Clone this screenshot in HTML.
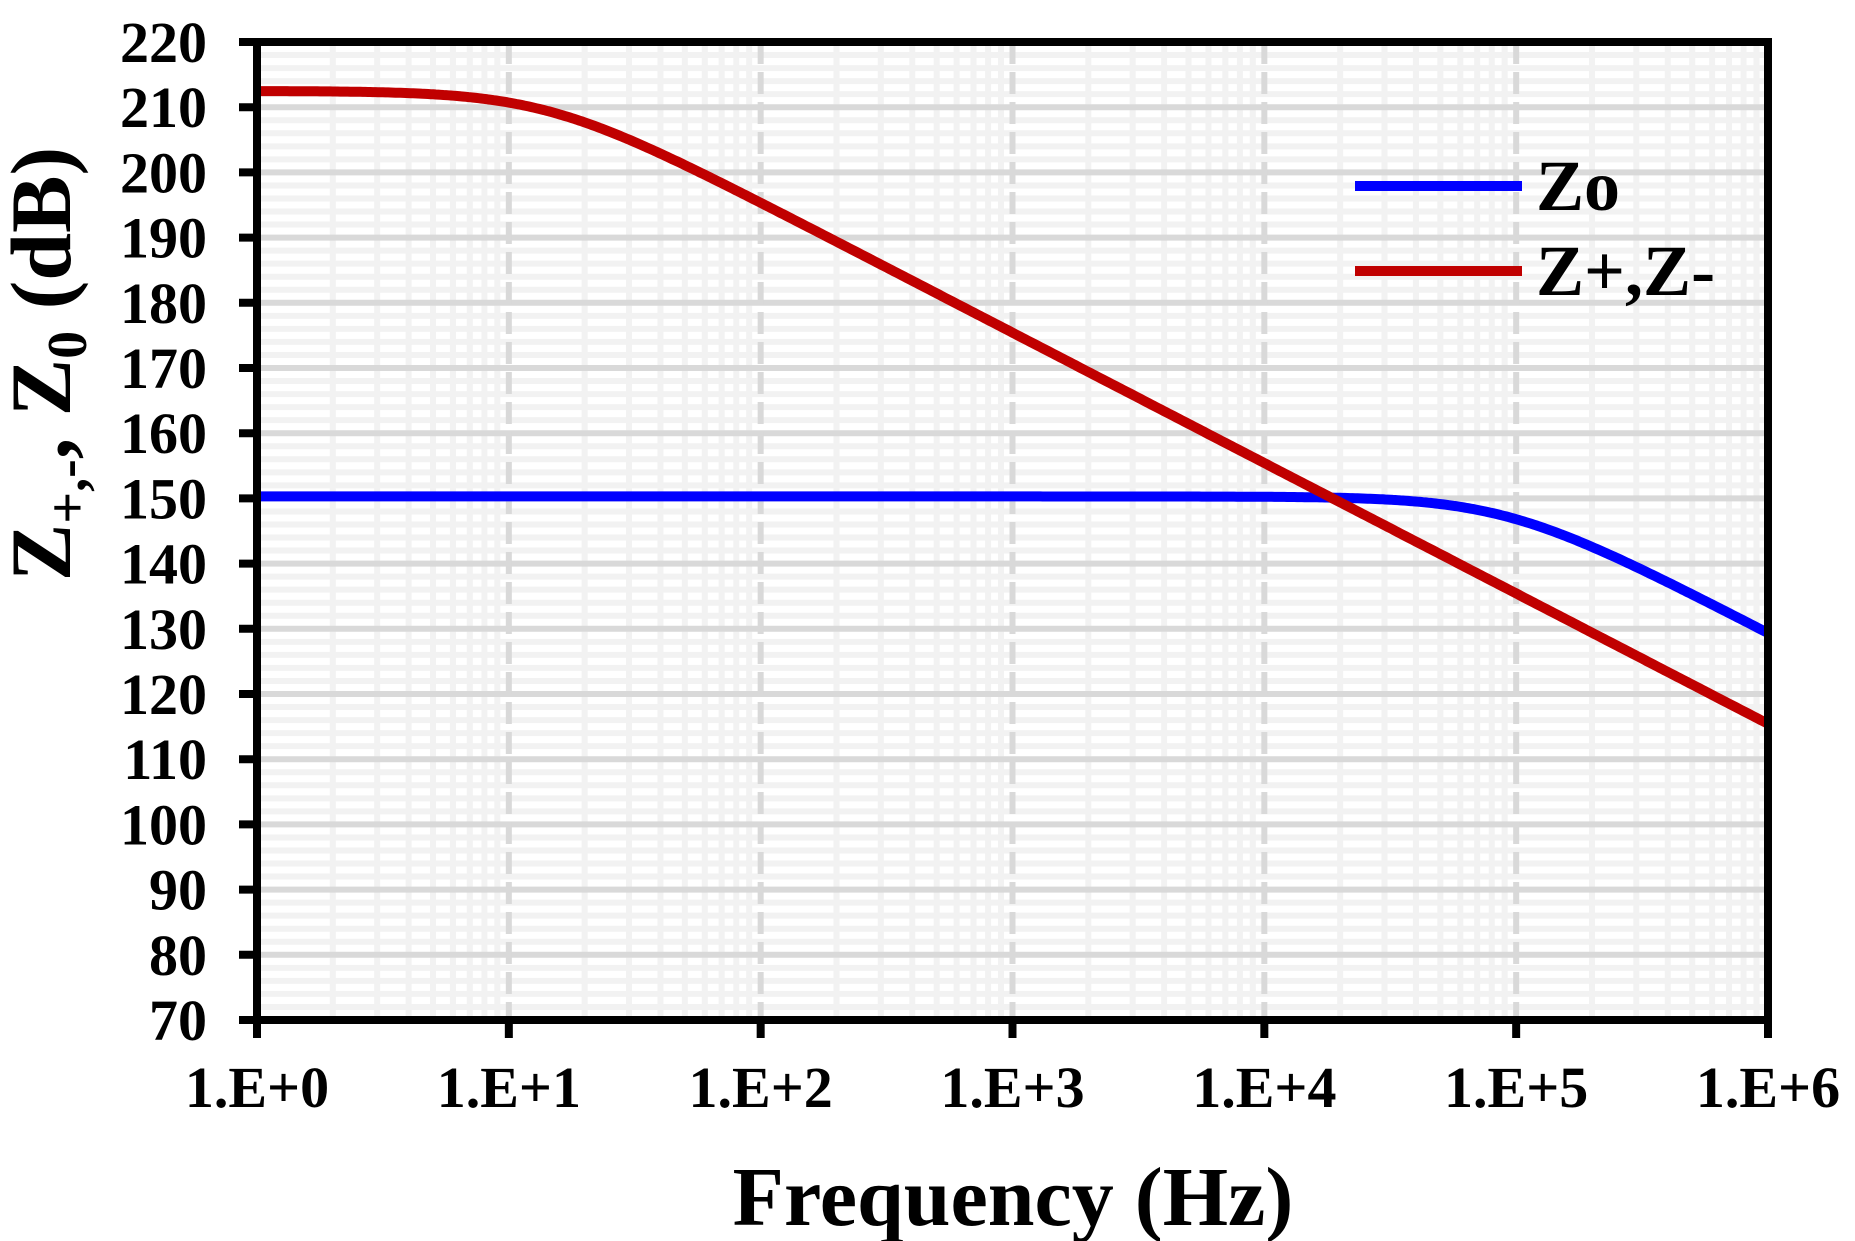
<!DOCTYPE html>
<html><head><meta charset="utf-8">
<style>
html,body{margin:0;padding:0;background:#fff;}
svg{display:block;}
text{font-family:"Liberation Serif",serif;font-weight:bold;fill:#000;}
</style></head>
<body>
<svg id="s" width="1855" height="1241" viewBox="0 0 1855 1241" xmlns="http://www.w3.org/2000/svg">
<g id="grid"></g>
<g id="curves"></g>
<g id="axes"></g>
<g id="labels"></g>
<text x="1013" y="1225" font-size="84" text-anchor="middle">Frequency (Hz)</text>
<text transform="translate(70,364) rotate(-90)" font-size="86" text-anchor="middle">Z<tspan font-size="56" dy="16">+,-</tspan><tspan dy="-16">, Z</tspan><tspan font-size="56" dy="16">0</tspan><tspan dy="-16"> (dB)</tspan></text>
<line x1="1355" y1="186" x2="1522" y2="186" stroke="#0000ff" stroke-width="10"/>
<line x1="1355" y1="271" x2="1522" y2="271" stroke="#c00000" stroke-width="10"/>
<text x="1536" y="210" font-size="72">Zo</text>
<text x="1536" y="295" font-size="72">Z+,Z-</text>
</svg>
<script>
var X0=257,X1=1768,Y0=42,Y1=1020;
function px(lf){return X0+(X1-X0)*lf/6;}
function py(v){return Y1-(Y1-Y0)*(v-70)/150;}
var ns="http://www.w3.org/2000/svg";
function el(p,t,a){var e=document.createElementNS(ns,t);for(var k in a)e.setAttribute(k,a[k]);p.appendChild(e);return e;}
var g=document.getElementById('grid');
el(g,'rect',{x:X0,y:Y0,width:X1-X0,height:Y1-Y0,fill:'#fff'});
for(var v=72;v<220;v+=2){if(v%10)el(g,'line',{x1:X0,x2:X1,y1:py(v),y2:py(v),stroke:'#f2f2f2','stroke-width':6});}
for(var d=0;d<6;d++)for(var m=2;m<10;m++){var x=px(d+Math.log10(m));el(g,'line',{x1:x,x2:x,y1:Y0,y2:Y1,stroke:'#f2f2f2','stroke-width':6});}
for(var v=80;v<220;v+=10)el(g,'line',{x1:X0,x2:X1,y1:py(v),y2:py(v),stroke:'#d9d9d9','stroke-width':6});
for(var d=1;d<6;d++){var x=px(d);el(g,'line',{x1:x,x2:x,y1:Y0,y2:Y1,stroke:'#d9d9d9','stroke-width':6,'stroke-dasharray':'22,8'});}
var c=document.getElementById('curves');
function path(fn){var s='';for(var i=0;i<=600;i++){var lf=i/100,f=Math.pow(10,lf);s+=(i?'L':'M')+px(lf).toFixed(1)+','+py(fn(f)).toFixed(1);}return s;}
el(c,'path',{d:path(function(f){return 150.3-10*Math.log10(1+Math.pow(f/9e4,2));}),fill:'none',stroke:'#0000ff','stroke-width':10});
el(c,'path',{d:path(function(f){return 212.5-10*Math.log10(1+Math.pow(f/14,2));}),fill:'none',stroke:'#c00000','stroke-width':10});
var a=document.getElementById('axes');
el(a,'rect',{x:X0,y:Y0,width:X1-X0,height:Y1-Y0,fill:'none',stroke:'#000','stroke-width':8});
var L=document.getElementById('labels');
for(var v=70;v<=220;v+=10){var y=py(v);el(a,'line',{x1:X0-18,x2:X0,y1:y,y2:y,stroke:'#000','stroke-width':8});var t=el(L,'text',{x:207,y:y+20,'font-size':58,'text-anchor':'end'});t.textContent=v;}
for(var d=0;d<=6;d++){var x=px(d);el(a,'line',{x1:x,x2:x,y1:Y1,y2:Y1+18,stroke:'#000','stroke-width':8});var t=el(L,'text',{x:x,y:1107,'font-size':58,'text-anchor':'middle'});t.textContent='1.E+'+d;}
</script>
</body></html>
